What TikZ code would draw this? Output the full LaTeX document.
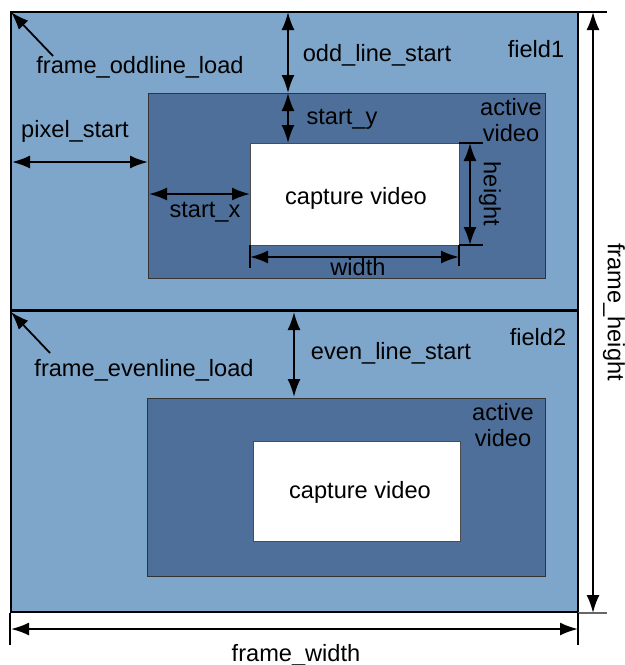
\documentclass[tikz,border=0pt]{standalone}
\usepackage{fontspec}
\setmainfont{Liberation Sans}
\usetikzlibrary{arrows.meta}
\definecolor{fieldblue}{RGB}{126,166,202}
\definecolor{activeblue}{RGB}{77,111,153}
\tikzset{
  fieldbox/.style={draw=black, fill=fieldblue, line width=0.6pt},
  activebox/.style={draw=black!80, fill=activeblue, line width=0.5pt},
  capbox/.style={draw=black!70, fill=white, line width=0.5pt},
  dim/.style={line width=1pt, {Latex[length=9pt,width=6.5pt]}-{Latex[length=9pt,width=6.5pt]}},
  ptr/.style={line width=0.9pt, -{Latex[length=9pt,width=6.5pt]}},
  ext/.style={line width=0.7pt},
  lbl/.style={font=\fontsize{11.8}{14}\selectfont, inner sep=0pt}
}
\begin{document}
\begin{tikzpicture}[x=0.5pt,y=-0.5pt]
\useasboundingbox (0,0) rectangle (625,665);
% fields
\draw[fieldbox] (11,12) rectangle (578,310);
\draw[fieldbox, line width=1pt] (11,311) rectangle (578,612);
% active video
\draw[activebox] (148,93) rectangle (545,278);
\draw[activebox] (147,398) rectangle (545,576);
% capture
\draw[capbox] (250,143) rectangle (459,245);
\draw[capbox] (253,441) rectangle (460,541);
% coordinates
\coordinate (fTL) at (11,12);
\coordinate (f2TL) at (11,312);
\coordinate (oddA) at (288,12);
\coordinate (oddB) at (288,93);
\coordinate (syB) at (288,143);
\coordinate (evA) at (294,312);
\coordinate (evB) at (294,397);
\coordinate (psA) at (12,162);
\coordinate (psB) at (148,162);
\coordinate (sxA) at (149,194);
\coordinate (sxB) at (250,194);
\coordinate (wA) at (250,257);
\coordinate (wB) at (459,257);
\coordinate (hA) at (470,143);
\coordinate (hB) at (470,245);
\coordinate (fhA) at (593,12);
\coordinate (fhB) at (593,613);
\coordinate (fwA) at (11,629);
\coordinate (fwB) at (578,629);
\coordinate (oddT) at (53,56);
\coordinate (evT) at (50,353);
% extension lines
\draw[ext] (578,12) -- (607,12);
\draw[ext, black!60] (578,613) -- (607,613);
\draw[ext] (10,613) -- (10,645);
\draw[ext] (578,613) -- (578,645);
\draw[ext] (459,143) -- (483,143);
\draw[ext] (459,245) -- (483,245);
\draw[ext] (250,245) -- (250,268);
\draw[ext] (459,245) -- (459,266);
% arrows
\draw[ptr] (oddT) -- (fTL);
\draw[ptr] (evT) -- (f2TL);
\draw[dim] (oddA) -- (oddB);
\draw[dim] (oddB) -- (syB);
\draw[dim] (evA) -- (evB);
\draw[dim] (psA) -- (psB);
\draw[dim] (sxA) -- (sxB);
\draw[dim] (wA) -- (wB);
\draw[dim] (hA) -- (hB);
\draw[dim] (fhA) -- (fhB);
\draw[dim] (fwA) -- (fwB);
% labels
\node[lbl] (l1) at (140,67) {frame\_oddline\_load};
\node[lbl] (l2) at (377,55) {odd\_line\_start};
\node[lbl] (l3) at (536,49) {field1};
\node[lbl] (l4) at (75,131) {pixel\_start};
\node[lbl] (l5) at (342,119) {start\_y};
\node[lbl, align=center] (l6) at (511,120) {active\\[-1pt]video};
\node[lbl] (l7) at (356,198) {capture video};
\node[lbl] (l8) at (205,212) {start\_x};
\node[lbl] (l9) at (358,267) {width};
\node[lbl, rotate=-90] (l10) at (490,194) {height};
\node[lbl] (l11) at (144,370) {frame\_evenline\_load};
\node[lbl] (l12) at (391,353) {even\_line\_start};
\node[lbl] (l13) at (538,337) {field2};
\node[lbl, align=center] (l14) at (503,425) {active\\[-1pt]video};
\node[lbl] (l15) at (360,492) {capture video};
\node[lbl, rotate=-90] (l16) at (614,312) {frame\_height};
\node[lbl] (l17) at (296,655) {frame\_width};
\end{tikzpicture}
\end{document}
